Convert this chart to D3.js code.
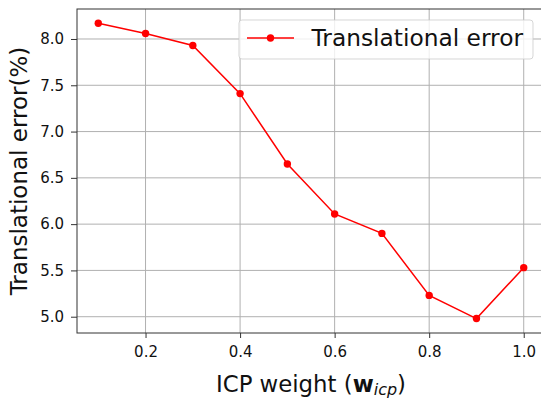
<!DOCTYPE html>
<html>
<head>
<meta charset="utf-8">
<script src="https://cdn.jsdelivr.net/npm/d3@7"></script>
<style>
  html, body { margin: 0; padding: 0; background: #fff; }
  svg { display: block; font-family: "DejaVu Sans", sans-serif; }
</style>
</head>
<body>
<svg id="chart" width="541" height="404"></svg>
<script>
// ---- data ----
const weights = [0.1, 0.2, 0.3, 0.4, 0.5, 0.6, 0.7, 0.8, 0.9, 1.0];
const transError = [8.17, 8.06, 7.93, 7.41, 6.65, 6.11, 5.90, 5.23, 4.98, 5.53];
const xTicks = [0.2, 0.4, 0.6, 0.8, 1.0];
const yTicks = [5.0, 5.5, 6.0, 6.5, 7.0, 7.5, 8.0];
const seriesName = "Translational error";
const xLabel = "ICP weight (";
const yLabel = "Translational error(%)";

// ---- layout ----
const W = 541, H = 404;
const L = 77, R = 545, T = 9, B = 333;
const svg = d3.select("#chart");

const x = d3.scaleLinear().domain([0.055, 1.045]).range([L, R]);
const y = d3.scaleLinear().domain([4.824, 8.324]).range([B, T]);

// grid
const grid = svg.append("g");
grid.selectAll("line.gx").data(xTicks).join("line")
  .attr("x1", d => x(d)).attr("x2", d => x(d))
  .attr("y1", T).attr("y2", B)
  .attr("stroke", "#b0b0b0").attr("stroke-width", 1);
grid.selectAll("line.gy").data(yTicks).join("line")
  .attr("x1", L).attr("x2", R)
  .attr("y1", d => y(d)).attr("y2", d => y(d))
  .attr("stroke", "#b0b0b0").attr("stroke-width", 1);

// axes
const xAxis = d3.axisBottom(x).tickValues(xTicks).tickFormat(d3.format(".1f"))
  .tickSizeInner(5).tickSizeOuter(0).tickPadding(8);
const yAxis = d3.axisLeft(y).tickValues(yTicks).tickFormat(d3.format(".1f"))
  .tickSizeInner(6).tickSizeOuter(0).tickPadding(7);

const gx = svg.append("g").attr("transform", `translate(0,${B})`).call(xAxis);
const gy = svg.append("g").attr("transform", `translate(${L},0)`).call(yAxis);
[gx, gy].forEach(g => {
  g.select(".domain").remove();
  g.selectAll(".tick line").attr("stroke", "#333").attr("stroke-width", 1);
  g.selectAll(".tick text").attr("fill", "#111")
    .style("font-size", "15px").style("font-family", "DejaVu Sans");
});

// spines
svg.append("rect").attr("x", L).attr("y", T).attr("width", R - L).attr("height", B - T)
  .attr("fill", "none").attr("stroke", "#333").attr("stroke-width", 1);

// line + markers
const line = d3.line().x((d, i) => x(weights[i])).y(d => y(d));
svg.append("path").datum(transError).attr("d", line)
  .attr("fill", "none").attr("stroke", "#ff0000").attr("stroke-width", 1.5);
svg.selectAll("circle.pt").data(transError).join("circle")
  .attr("cx", (d, i) => x(weights[i])).attr("cy", d => y(d)).attr("r", 3.7)
  .attr("fill", "#ff0000");

// legend
const lg = svg.append("g");
lg.append("rect").attr("x", 239).attr("y", 20).attr("width", 294).attr("height", 39)
  .attr("rx", 3).attr("fill", "#fff").attr("fill-opacity", 0.8)
  .attr("stroke", "#cccccc").attr("stroke-opacity", 0.8).attr("stroke-width", 1);
lg.append("line").attr("x1", 247).attr("x2", 294).attr("y1", 38).attr("y2", 38)
  .attr("stroke", "#ff0000").attr("stroke-width", 1.5);
lg.append("circle").attr("cx", 270.5).attr("cy", 38).attr("r", 3.7).attr("fill", "#ff0000");
lg.append("text").attr("x", 311.5).attr("y", 46).text(seriesName)
  .attr("fill", "#111").style("font-size", "23.3px");

// x label
const xl = svg.append("text").attr("x", 311).attr("y", 392).attr("text-anchor", "middle")
  .attr("fill", "#111").style("font-size", "22.8px");
xl.append("tspan").text(xLabel);
xl.append("tspan").text("w").style("font-weight", "bold");
xl.append("tspan").text("icp").style("font-style", "italic").style("font-size", "16px").attr("dy", 3);
xl.append("tspan").text(")").attr("dy", -3);

// y label
svg.append("text").attr("transform", `translate(27,${(T + B) / 2}) rotate(-90)`)
  .attr("text-anchor", "middle").attr("fill", "#111").style("font-size", "23px")
  .text(yLabel);
</script>
</body>
</html>
